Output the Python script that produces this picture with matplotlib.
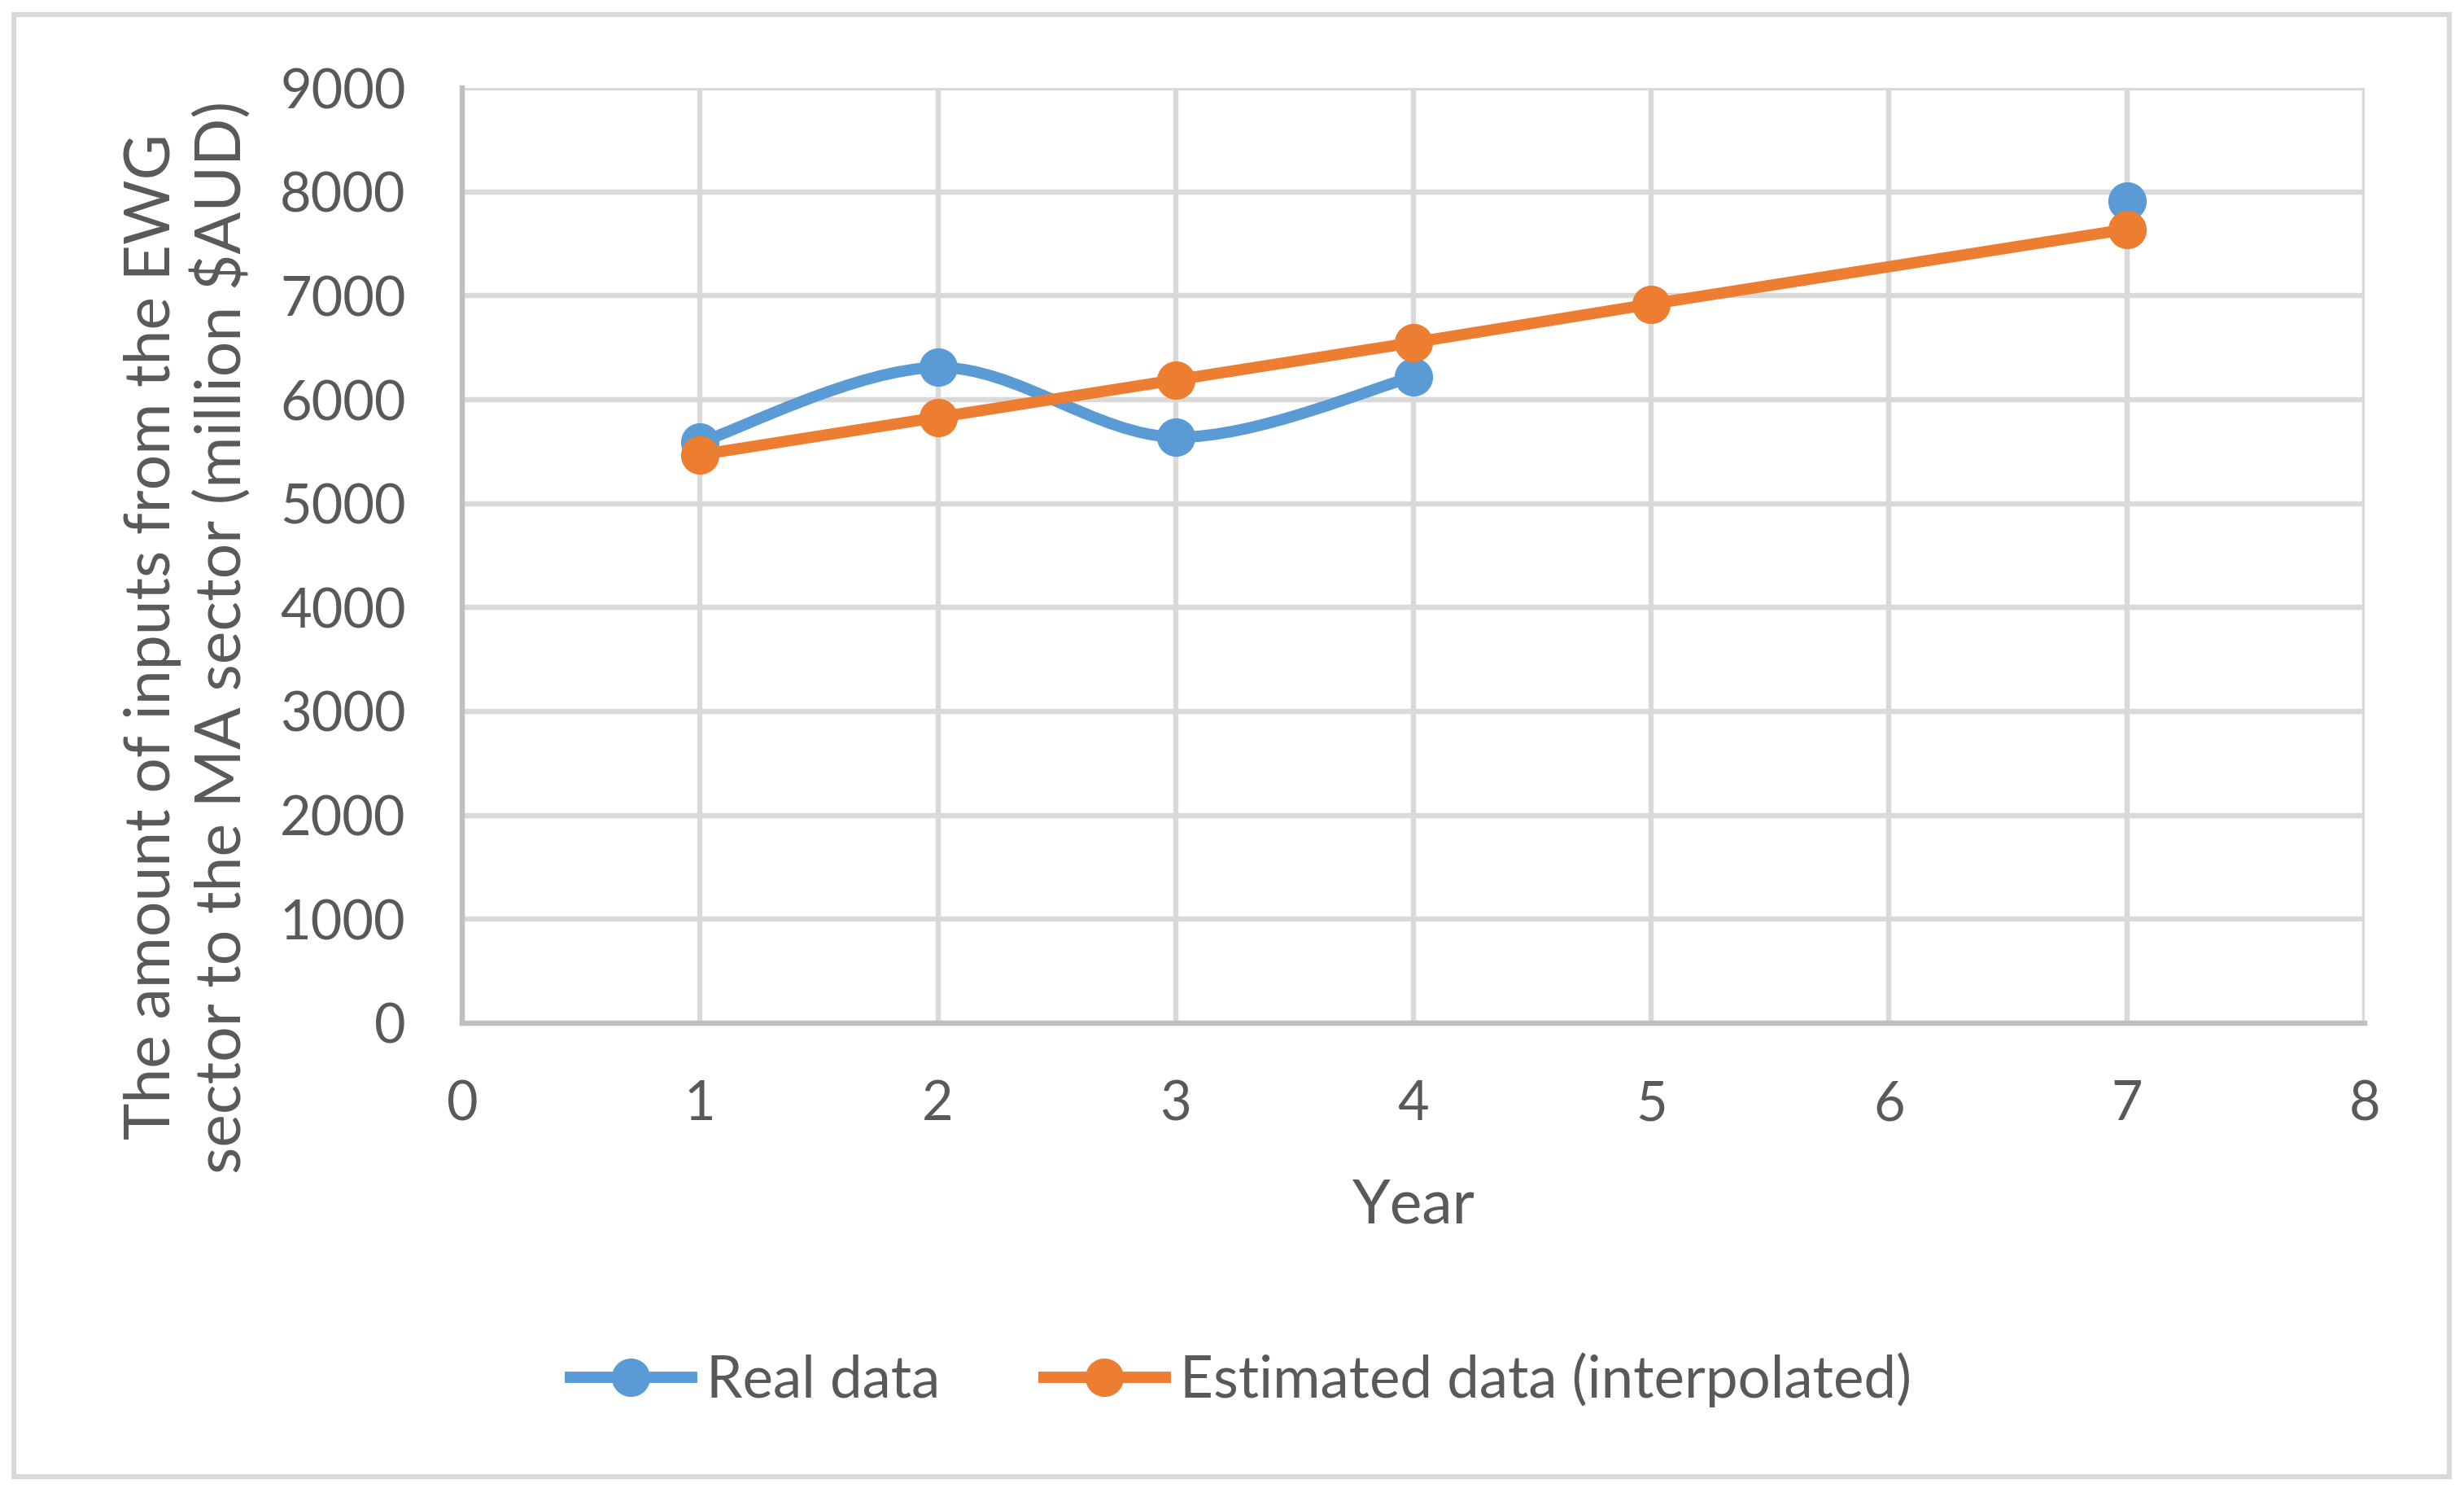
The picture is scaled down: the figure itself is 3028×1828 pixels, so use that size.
import numpy as np
import matplotlib
matplotlib.use("Agg")
import matplotlib.pyplot as plt
from matplotlib.path import Path
from matplotlib.patches import PathPatch, Rectangle
from matplotlib.lines import Line2D

# data
years = [1, 2, 3, 4, 5, 7]
real_data = [5590, 6310, 5640, 6220, np.nan, 7910]        # no value in year 5
estimated_data = [5470, 5830, 6190, 6550, 6920, 7640]

x_ticks = [0, 1, 2, 3, 4, 5, 6, 7, 8]
y_ticks = [0, 1000, 2000, 3000, 4000, 5000, 6000, 7000, 8000, 9000]

BLUE = "#5b9bd5"
ORANGE = "#ed7d31"
TEXT = "#595959"
GRID = "#d9d9d9"

plt.rcParams["font.family"] = ["Lato", "DejaVu Sans"]


def smooth_path(xs, ys):
    # Excel-like smoothed line: cubic bezier with catmull-rom tangents
    pts = np.column_stack([xs, ys]).astype(float)
    n = len(pts)
    verts = [pts[0]]
    codes = [Path.MOVETO]
    for i in range(n - 1):
        p0 = pts[i - 1] if i > 0 else pts[i]
        p1 = pts[i]
        p2 = pts[i + 1]
        p3 = pts[i + 2] if i + 2 < n else pts[i + 1]
        c1 = p1 + (p2 - p0) / 6.0
        c2 = p2 - (p3 - p1) / 6.0
        verts += [c1, c2, p2]
        codes += [Path.CURVE4] * 3
    return Path(verts, codes)


def runs(xs, ys):
    # split series into pieces without missing values
    out, cur = [], []
    for x, y in zip(xs, ys):
        if np.isnan(y):
            if cur:
                out.append(cur)
            cur = []
        else:
            cur.append((x, y))
    if cur:
        out.append(cur)
    return out


fig = plt.figure(figsize=(15.14, 9.14), dpi=200)
ax = fig.add_axes([0.1876, 0.3124, 0.7721, 0.6285])

# outer chart border
fig.patches.append(Rectangle((0.0055, 0.0075), 0.9885, 0.9825, transform=fig.transFigure,
                             fill=False, edgecolor=GRID, linewidth=2.2))

lw = 5.0
ms = 17

# real data: smoothed, broken where a value is missing
for seg in runs(years, real_data):
    sx = [p[0] for p in seg]
    sy = [p[1] for p in seg]
    if len(seg) > 1:
        ax.add_patch(PathPatch(smooth_path(sx, sy), facecolor="none", edgecolor=BLUE,
                               linewidth=lw, capstyle="round", joinstyle="round", zorder=3))
    ax.plot(sx, sy, linestyle="none", marker="o", markersize=ms, color=BLUE, mew=0, zorder=4)

ax.plot(years, estimated_data, color=ORANGE, linewidth=lw, solid_capstyle="round",
        marker="o", markersize=ms, mew=0, zorder=5)

ax.set_xlim(0, 8)
ax.set_ylim(0, 9000)
ax.set_xticks(x_ticks)
ax.set_yticks(y_ticks)

ax.grid(True, color=GRID, linewidth=2.3)
ax.set_axisbelow(True)
for s in ["top", "right"]:
    ax.spines[s].set_visible(False)
for s in ["left", "bottom"]:
    ax.spines[s].set_color("#bfbfbf")
    ax.spines[s].set_linewidth(2.3)
ax.tick_params(length=0, labelsize=24, labelcolor=TEXT, pad=25)

ax.set_xlabel("Year", fontsize=27, color=TEXT, labelpad=21)
ax.set_ylabel("The amount of inputs from the EWG\nsector to the MA sector (million $AUD)",
              fontsize=27.7, color=TEXT, linespacing=1.2)
ax.yaxis.set_label_coords(-0.1105, 0.413)

handles = [
    Line2D([], [], color=BLUE, linewidth=lw, marker="o", markersize=ms, mew=0),
    Line2D([], [], color=ORANGE, linewidth=lw, marker="o", markersize=ms, mew=0),
]
leg = fig.legend(handles, ["Real data", "Estimated data (interpolated)"], loc="center",
                 bbox_to_anchor=(0.5037, 0.0728), ncol=2, frameon=False, fontsize=25.5,
                 handlelength=2.1, handletextpad=0.26, columnspacing=1.8)
for t in leg.get_texts():
    t.set_color(TEXT)

fig.savefig("out.png", dpi=200, facecolor="white")
